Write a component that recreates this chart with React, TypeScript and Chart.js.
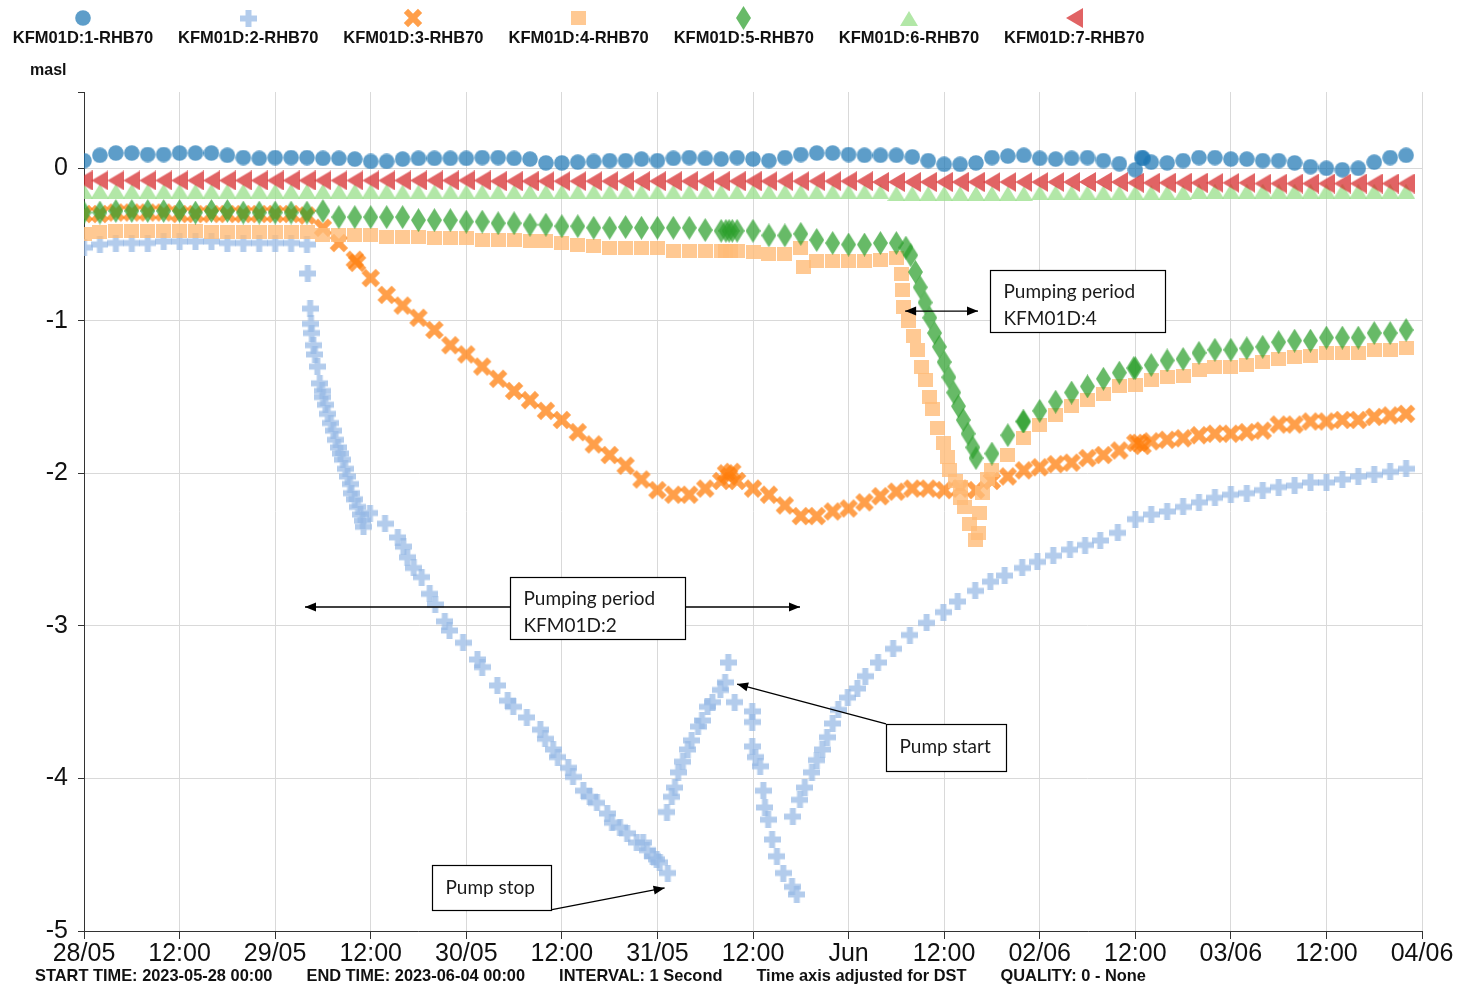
import React, { useEffect, useRef } from 'react';
import { Chart, registerables } from 'chart.js';

Chart.register(...registerables);

// ---------- labels ----------
const SERIES_NAMES = [
  'KFM01D:1-RHB70',
  'KFM01D:2-RHB70',
  'KFM01D:3-RHB70',
  'KFM01D:4-RHB70',
  'KFM01D:5-RHB70',
  'KFM01D:6-RHB70',
  'KFM01D:7-RHB70',
];
const Y_UNIT = 'masl';
const X_TICK_HOURS = [0, 12, 24, 36, 48, 60, 72, 84, 96, 108, 120, 132, 144, 156, 168];
const X_TICK_LABELS = ['28/05', '12:00', '29/05', '12:00', '30/05', '12:00', '31/05', '12:00', 'Jun', '12:00', '02/06', '12:00', '03/06', '12:00', '04/06'];
const Y_TICK_VALUES = [-5, -4, -3, -2, -1, 0];
const Y_MIN = -5;
const Y_MAX = 0.5;
const X_MAX_HOURS = 168;
const FOOTER_ITEMS = [
  'START TIME: 2023-05-28 00:00',
  'END TIME: 2023-06-04 00:00',
  'INTERVAL: 1 Second',
  'Time axis adjusted for DST',
  'QUALITY: 0 - None',
];

// Regular logger samples are every 2 hours from 28/05 00:00
const SAMPLE_STEP_HOURS = 2;

// ---------- KFM01D:1 (2 h samples, 0..166 h) ----------
const s1Values = [
  0.05, 0.085, 0.1, 0.1, 0.09, 0.09, 0.1, 0.1, 0.1, 0.085, 0.07, 0.065, 0.07, 0.07, 0.07, 0.065, 0.065, 0.06, 0.045,
  0.045, 0.06, 0.065, 0.065, 0.065, 0.065, 0.07, 0.07, 0.065, 0.06, 0.035, 0.035, 0.04, 0.045, 0.05, 0.05, 0.06, 0.05,
  0.065, 0.07, 0.065, 0.06, 0.07, 0.06, 0.05, 0.07, 0.09, 0.1, 0.1, 0.09, 0.085, 0.085, 0.085, 0.075, 0.05, 0.026, 0.026, 0.035, 0.07,
  0.08, 0.085, 0.065, 0.06, 0.065, 0.07, 0.05, 0.03, -0.01, 0.04, 0.035, 0.05, 0.07, 0.07, 0.06, 0.06, 0.05, 0.05, 0.035, 0.01, 0.0, -0.01, 0.0, 0.04, 0.07, 0.085,
];
const s1Extra = [[132.8, 0.07], [133.0, 0.065]];

// ---------- KFM01D:2 ----------
const s2Before = [-0.52, -0.5, -0.49, -0.49, -0.49, -0.48, -0.48, -0.48, -0.48, -0.49, -0.49, -0.49, -0.49, -0.49, -0.5];
const s2DropHours = [
  28.1, 28.4, 28.5, 28.6, 28.8, 29.0, 29.3, 29.6, 29.9, 30.0, 30.3, 30.6, 31.0, 31.3, 31.6, 31.9, 32.2, 32.5, 32.8, 33.1,
  33.4, 33.6, 34.0, 34.4, 34.7, 35.0, 35.1, 35.9, 37.8, 39.4, 40.1, 40.6, 41.4, 42.4, 43.4, 44.1, 45.3, 45.9, 47.6, 49.4,
  50.0, 51.9, 53.2, 53.9, 55.6, 57.3, 57.9, 58.9, 59.5, 60.8, 61.4, 62.7, 63.5, 64.4, 65.7, 66.3, 67.3, 68.2, 69.4, 70.2,
  70.7, 71.4, 71.9, 72.3, 73.3,
];
const s2DropValues = [
  -0.69, -0.92, -1.02, -1.08, -1.16, -1.22, -1.3, -1.41, -1.46, -1.5, -1.55, -1.61, -1.67, -1.72, -1.78, -1.83, -1.87, -1.91, -1.97, -2.02,
  -2.07, -2.13, -2.17, -2.22, -2.27, -2.31, -2.35, -2.26, -2.33, -2.42, -2.48, -2.55, -2.62, -2.68, -2.79, -2.86, -2.97, -3.03, -3.11, -3.22,
  -3.27, -3.39, -3.49, -3.53, -3.6, -3.68, -3.74, -3.81, -3.86, -3.93, -3.99, -4.08, -4.12, -4.16, -4.23, -4.29, -4.32, -4.36, -4.42, -4.42,
  -4.47, -4.51, -4.53, -4.55, -4.62,
];
const s2RiseHours = [73.2, 73.8, 74.2, 74.6, 75.2, 75.8, 76.3, 77.1, 77.6, 78.3, 78.9, 79.9, 80.5, 80.9, 81.7];
const s2RiseValues = [-4.22, -4.12, -4.06, -3.96, -3.89, -3.81, -3.75, -3.66, -3.62, -3.53, -3.5, -3.42, -3.37, -3.24, -3.5];
const s2FallHours = [83.9, 83.9, 83.9, 84.3, 84.9, 85.3, 85.5, 85.9, 86.4, 87.0, 87.8, 88.9, 89.5];
const s2FallValues = [-3.56, -3.63, -3.79, -3.86, -3.92, -4.08, -4.19, -4.27, -4.4, -4.51, -4.62, -4.71, -4.76];
const s2RecoveryHours = [
  89.0, 89.9, 90.5, 91.4, 92.0, 92.7, 93.3, 94.0, 94.7, 95.9, 97.1, 98.1, 99.7, 101.6, 103.7, 105.8, 107.9, 109.7,
  111.9, 113.8, 115.6, 117.8, 119.7, 121.7, 123.8, 125.7, 127.6, 129.8,
];
const s2RecoveryValues = [
  -4.25, -4.14, -4.06, -3.96, -3.88, -3.81, -3.73, -3.64, -3.55, -3.47, -3.41, -3.33, -3.24, -3.15, -3.06, -2.98, -2.91, -2.84,
  -2.77, -2.71, -2.67, -2.62, -2.58, -2.54, -2.5, -2.47, -2.44, -2.39,
];
const s2After = [-2.3, -2.27, -2.25, -2.22, -2.19, -2.16, -2.14, -2.13, -2.11, -2.09, -2.08, -2.06, -2.06, -2.04, -2.02, -2.01, -1.99, -1.97];

// ---------- KFM01D:3 (2 h samples, 0..166 h) ----------
const s3Values = [
  -0.3, -0.3, -0.29, -0.29, -0.29, -0.29, -0.3, -0.3, -0.3, -0.3, -0.3, -0.3, -0.3, -0.3, -0.31,
  -0.39, -0.49, -0.6, -0.72, -0.83, -0.9, -0.98, -1.06, -1.16, -1.22, -1.3, -1.38, -1.46, -1.52, -1.59, -1.65, -1.73, -1.81, -1.88, -1.95, -2.04, -2.11,
  -2.14, -2.14, -2.1, -2.05, -2.05, -2.1, -2.14, -2.21, -2.28, -2.28, -2.25, -2.23, -2.19, -2.15, -2.12, -2.1, -2.1, -2.11, -2.1, -2.11, -2.05,
  -2.02, -1.98, -1.96, -1.94, -1.93, -1.9, -1.88, -1.85, -1.8, -1.79, -1.78, -1.77, -1.75, -1.74, -1.74, -1.73, -1.72, -1.68, -1.68, -1.66, -1.66, -1.65, -1.65, -1.63, -1.62, -1.61,
];
const s3Extra = [[34.3, -0.62], [80.6, -2.0], [81.0, -2.02], [81.4, -1.99], [132.5, -1.8], [132.9, -1.82]];

// ---------- KFM01D:4 ----------
const s4Before = [
  -0.43, -0.42, -0.41, -0.41, -0.41, -0.41, -0.41, -0.41, -0.42, -0.42, -0.42, -0.42, -0.42, -0.42, -0.42,
  -0.44, -0.44, -0.44, -0.44, -0.45, -0.45, -0.45, -0.46, -0.46, -0.46, -0.47, -0.47, -0.47, -0.48, -0.48, -0.49, -0.5, -0.51, -0.52, -0.52, -0.52, -0.525,
  -0.54, -0.54, -0.54, -0.54, -0.54, -0.55, -0.56, -0.56, -0.52, -0.61, -0.61, -0.61, -0.61, -0.6, -0.59,
];
const s4Extra = [[90.3, -0.65], [80.6, -0.54], [81.2, -0.54]];
const s4DropHours = [102.7, 102.8, 102.9, 103.5, 104.1, 104.6, 105.2, 105.6, 106.2, 106.6, 107.2, 107.9, 108.4, 108.7, 109.4, 110.0, 110.1, 110.6, 111.2, 111.9, 112.3, 112.5, 112.8, 113.4];
const s4DropValues = [-0.69, -0.8, -0.91, -1.0, -1.1, -1.19, -1.3, -1.39, -1.5, -1.58, -1.7, -1.8, -1.89, -1.98, -2.05, -2.09, -2.16, -2.22, -2.33, -2.44, -2.39, -2.26, -2.13, -2.04];
const s4After = [
  -1.98, -1.88, -1.77, -1.68, -1.62, -1.56, -1.52, -1.48, -1.43, -1.42, -1.39, -1.37, -1.36, -1.32, -1.3, -1.3, -1.29, -1.27, -1.25, -1.24, -1.23, -1.21, -1.21, -1.21, -1.19, -1.19, -1.18,
];

// ---------- KFM01D:5 ----------
const s5Before = [
  -0.29, -0.29, -0.28, -0.28, -0.28, -0.28, -0.28, -0.29, -0.28, -0.28, -0.29, -0.29, -0.29, -0.29, -0.29,
  -0.28, -0.32, -0.32, -0.32, -0.32, -0.32, -0.34, -0.34, -0.34, -0.35, -0.35, -0.36, -0.36, -0.37, -0.37, -0.38, -0.38, -0.39, -0.39, -0.385, -0.39, -0.39,
  -0.39, -0.39, -0.405, -0.41, -0.41, -0.41, -0.44, -0.44, -0.43, -0.47, -0.49, -0.5, -0.5, -0.49, -0.49,
];
const s5Extra = [[80.6, -0.41], [81.0, -0.41], [81.4, -0.41], [117.9, -1.66], [131.8, -1.31]];
const s5DropHours = [103.2, 103.8, 104.4, 105.0, 105.6, 106.2, 106.8, 107.4, 108.0, 108.6, 109.2, 109.8, 110.4, 111.0, 111.6];
const s5DropValues = [-0.52, -0.57, -0.68, -0.78, -0.88, -0.98, -1.08, -1.17, -1.27, -1.37, -1.47, -1.56, -1.65, -1.74, -1.83];
const s5After = [
  -1.9, -1.87, -1.75, -1.66, -1.59, -1.53, -1.47, -1.43, -1.38, -1.34, -1.31, -1.29, -1.26, -1.25, -1.21, -1.19, -1.19, -1.18, -1.17, -1.14, -1.13, -1.13, -1.11, -1.11, -1.11, -1.08, -1.08, -1.06,
];

// ---------- KFM01D:6 (2 h samples, 0..166 h) ----------
const s6Values = [
  -0.15, -0.15, -0.15, -0.15, -0.15, -0.15, -0.15, -0.15, -0.15, -0.15, -0.15, -0.15, -0.15, -0.15, -0.15, -0.15, -0.15, -0.15, -0.15, -0.15,
  -0.155, -0.155, -0.155, -0.155, -0.155, -0.155, -0.155, -0.155, -0.155, -0.155, -0.155, -0.155, -0.155, -0.155, -0.155, -0.155, -0.155, -0.155, -0.155, -0.155,
  -0.155, -0.155, -0.155, -0.155, -0.155, -0.155, -0.155, -0.155, -0.155, -0.155, -0.155,
  -0.165, -0.165, -0.165, -0.165, -0.165, -0.165, -0.165, -0.165, -0.165,
  -0.16, -0.16, -0.16, -0.16, -0.16, -0.16, -0.16, -0.16, -0.16, -0.16, -0.15, -0.15, -0.15, -0.15, -0.15, -0.15, -0.15, -0.15, -0.15, -0.15, -0.15, -0.15, -0.15, -0.15,
];

// ---------- KFM01D:7 (2 h samples, 0..166 h) ----------
const s7Values = [
  -0.08, -0.08, -0.08, -0.08, -0.08, -0.08, -0.08, -0.08, -0.08, -0.08, -0.08, -0.08, -0.08, -0.08, -0.08, -0.08, -0.08, -0.08, -0.08, -0.08,
  -0.08, -0.08, -0.08, -0.08, -0.08, -0.08, -0.085, -0.085, -0.085, -0.085, -0.085, -0.085, -0.085, -0.085, -0.085, -0.085, -0.085, -0.085, -0.085, -0.085,
  -0.085, -0.085, -0.085, -0.085, -0.085, -0.085, -0.085, -0.085, -0.085, -0.085, -0.09, -0.09, -0.09, -0.09, -0.09, -0.09, -0.09, -0.09, -0.09, -0.09,
  -0.09, -0.09, -0.09, -0.09, -0.09, -0.09, -0.095, -0.095, -0.095, -0.095, -0.095, -0.095, -0.095, -0.095, -0.1, -0.1, -0.1, -0.1, -0.1, -0.1, -0.1, -0.1, -0.1, -0.1,
];

// ---------- annotations (data units: hours, masl) ----------
const ANNOTATION_BOXES = [
  { x0: 113.8, x1: 135.7, yTop: -0.667, yBottom: -1.073, lines: ['Pumping period', 'KFM01D:4'] },
  { x0: 53.5, x1: 75.5, yTop: -2.679, yBottom: -3.086, lines: ['Pumping period', 'KFM01D:2'] },
  { x0: 100.7, x1: 115.8, yTop: -3.643, yBottom: -3.951, lines: ['Pump start'] },
  { x0: 43.7, x1: 58.6, yTop: -4.567, yBottom: -4.862, lines: ['Pump stop'] },
];
const ANNOTATION_ARROWS = [
  { from: [103.1, -0.936], to: [112.25, -0.936], both: true },
  { from: [53.5, -2.876], to: [27.75, -2.876], both: false },
  { from: [75.5, -2.876], to: [89.9, -2.876], both: false },
  { from: [100.7, -3.643], to: [82.0, -3.381], both: false },
  { from: [58.6, -4.862], to: [72.9, -4.718], both: false },
];

type Pt = { x: number; y: number };
const onGrid = (values: number[], startHour = 0): Pt[] =>
  values.map((v, i) => ({ x: startHour + i * SAMPLE_STEP_HOURS, y: v }));
const zip = (hours: number[], values: number[]): Pt[] => hours.map((h, i) => ({ x: h, y: values[i] }));
const fromPairs = (list: number[][]): Pt[] => list.map(([x, y]) => ({ x, y }));

const SANS = "'Liberation Sans', Arial, Helvetica, sans-serif";
const NOTE_FONT = "Lato, 'Open Sans', sans-serif";
const GRID_COLOR = '#d9d9d9';
const AXIS_COLOR = '#333333';
const TEXT_COLOR = '#111111';

function markerCanvas(w: number, h: number, draw: (ctx: CanvasRenderingContext2D) => void) {
  const c = document.createElement('canvas');
  c.width = w;
  c.height = h;
  const ctx = c.getContext('2d') as CanvasRenderingContext2D;
  draw(ctx);
  return c;
}

function buildMarkers() {
  const circle = markerCanvas(16, 16, (ctx) => {
    ctx.fillStyle = 'rgba(31,119,180,0.72)';
    ctx.beginPath();
    ctx.arc(8, 8, 7.8, 0, Math.PI * 2);
    ctx.fill();
  });
  const plus = markerCanvas(17, 17, (ctx) => {
    ctx.fillStyle = 'rgba(150,185,228,0.72)';
    ctx.beginPath();
    ctx.rect(0, 5.5, 17, 6);
    ctx.rect(5.5, 0, 6, 17);
    ctx.fill();
  });
  const cross = markerCanvas(20, 20, (ctx) => {
    ctx.fillStyle = 'rgba(255,127,14,0.75)';
    ctx.translate(10, 10);
    ctx.rotate(Math.PI / 4);
    ctx.beginPath();
    ctx.rect(-10, -3, 20, 6);
    ctx.rect(-3, -10, 6, 20);
    ctx.fill();
  });
  const square = markerCanvas(15, 14, (ctx) => {
    ctx.fillStyle = 'rgba(255,187,120,0.8)';
    ctx.fillRect(0, 0, 15, 14);
  });
  const diamond = markerCanvas(15, 24, (ctx) => {
    ctx.fillStyle = 'rgba(44,160,44,0.72)';
    ctx.beginPath();
    ctx.moveTo(7.5, 0);
    ctx.lineTo(15, 12);
    ctx.lineTo(7.5, 24);
    ctx.lineTo(0, 12);
    ctx.closePath();
    ctx.fill();
  });
  const triUp = markerCanvas(18, 15, (ctx) => {
    ctx.fillStyle = 'rgba(152,223,138,0.75)';
    ctx.beginPath();
    ctx.moveTo(9, 0);
    ctx.lineTo(18, 15);
    ctx.lineTo(0, 15);
    ctx.closePath();
    ctx.fill();
  });
  const triLeft = markerCanvas(17, 20, (ctx) => {
    ctx.fillStyle = 'rgba(214,39,40,0.72)';
    ctx.beginPath();
    ctx.moveTo(0, 10);
    ctx.lineTo(17, 0);
    ctx.lineTo(17, 20);
    ctx.closePath();
    ctx.fill();
  });
  return [circle, plus, cross, square, diamond, triUp, triLeft];
}

function drawArrowHead(ctx: CanvasRenderingContext2D, fx: number, fy: number, tx: number, ty: number) {
  const ang = Math.atan2(ty - fy, tx - fx);
  const len = 11;
  const half = 4.5;
  ctx.save();
  ctx.translate(tx, ty);
  ctx.rotate(ang);
  ctx.beginPath();
  ctx.moveTo(0, 0);
  ctx.lineTo(-len, -half);
  ctx.lineTo(-len, half);
  ctx.closePath();
  ctx.fill();
  ctx.restore();
}

export default function App() {
  const canvasRef = useRef<HTMLCanvasElement | null>(null);

  useEffect(() => {
    document.body.style.margin = '0';
    const canvas = canvasRef.current;
    if (!canvas) return;
    const markers = buildMarkers();

    const seriesPoints: Pt[][] = [
      [...onGrid(s1Values), ...fromPairs(s1Extra)],
      [
        ...onGrid(s2Before),
        ...zip(s2DropHours, s2DropValues),
        ...zip(s2RiseHours, s2RiseValues),
        ...zip(s2FallHours, s2FallValues),
        ...zip(s2RecoveryHours, s2RecoveryValues),
        ...onGrid(s2After, 132),
      ],
      [...onGrid(s3Values), ...fromPairs(s3Extra)],
      [...onGrid(s4Before), ...fromPairs(s4Extra), ...zip(s4DropHours, s4DropValues), ...onGrid(s4After, 114)],
      [...onGrid(s5Before), ...fromPairs(s5Extra), ...zip(s5DropHours, s5DropValues), ...onGrid(s5After, 112)],
      onGrid(s6Values),
      onGrid(s7Values),
    ];

    const datasets = SERIES_NAMES.map((name, i) => ({
      label: name,
      data: seriesPoints[i],
      pointStyle: markers[i] as any,
      pointRadius: 8,
      showLine: false,
      order: SERIES_NAMES.length - 1 - i,
    }));

    const overlay = {
      id: 'overlay',
      afterDatasetsDraw(chart: any) {
        const { ctx } = chart;
        const xs = chart.scales.x;
        const ys = chart.scales.y;
        const px = (h: number) => xs.getPixelForValue(h);
        const py = (v: number) => ys.getPixelForValue(v);
        ctx.save();
        // arrows
        ctx.strokeStyle = '#000';
        ctx.fillStyle = '#000';
        ctx.lineWidth = 1.3;
        ANNOTATION_ARROWS.forEach((a) => {
          const fx = px(a.from[0]);
          const fy = py(a.from[1]);
          const tx = px(a.to[0]);
          const ty = py(a.to[1]);
          ctx.beginPath();
          ctx.moveTo(fx, fy);
          ctx.lineTo(tx, ty);
          ctx.stroke();
          drawArrowHead(ctx, fx, fy, tx, ty);
          if (a.both) drawArrowHead(ctx, tx, ty, fx, fy);
        });
        // boxes
        ANNOTATION_BOXES.forEach((b) => {
          const x0 = Math.round(px(b.x0)) + 0.5;
          const x1 = Math.round(px(b.x1)) + 0.5;
          const y0 = Math.round(py(b.yTop)) + 0.5;
          const y1 = Math.round(py(b.yBottom)) + 0.5;
          ctx.fillStyle = '#fff';
          ctx.fillRect(x0, y0, x1 - x0, y1 - y0);
          ctx.strokeStyle = '#000';
          ctx.lineWidth = 1.2;
          ctx.strokeRect(x0, y0, x1 - x0, y1 - y0);
          ctx.fillStyle = '#1a1a1a';
          ctx.font = `19px ${NOTE_FONT}`;
          ctx.textAlign = 'left';
          ctx.textBaseline = 'middle';
          if (b.lines.length === 2) {
            ctx.fillText(b.lines[0], x0 + 13, y0 + 21);
            ctx.fillText(b.lines[1], x0 + 13, y0 + 48);
          } else {
            ctx.fillText(b.lines[0], x0 + 13, y0 + 22);
          }
        });
        ctx.restore();
      },
      afterDraw(chart: any) {
        const { ctx } = chart;
        ctx.save();
        // legend: marker above each name
        const legendStart = 83;
        const legendStep = 165.2;
        ctx.font = `bold 16.5px ${SANS}`;
        ctx.textAlign = 'center';
        ctx.textBaseline = 'middle';
        ctx.fillStyle = TEXT_COLOR;
        SERIES_NAMES.forEach((name, i) => {
          const cx = legendStart + i * legendStep;
          const m = markers[i];
          ctx.drawImage(m, Math.round(cx - m.width / 2), Math.round(18 - m.height / 2));
          ctx.fillText(name, cx, 38);
        });
        // unit label
        ctx.textAlign = 'left';
        ctx.font = `bold 16px ${SANS}`;
        ctx.fillText(Y_UNIT, 30, 71);
        // footer
        ctx.font = `bold 16.4px ${SANS}`;
        let fx = 35;
        FOOTER_ITEMS.forEach((t) => {
          ctx.fillText(t, fx, 976);
          fx += ctx.measureText(t).width + 34;
        });
        ctx.restore();
      },
    };

    const chart = new Chart(canvas, {
      type: 'scatter',
      data: { datasets },
      options: {
        responsive: false,
        animation: false,
        devicePixelRatio: 1,
        events: [],
        layout: { padding: { top: 92, right: 37, left: 0, bottom: 0 } },
        plugins: { legend: { display: false }, tooltip: { enabled: false } },
        scales: {
          x: {
            type: 'linear',
            min: 0,
            max: X_MAX_HOURS,
            afterBuildTicks: (axis: any) => {
              axis.ticks = X_TICK_HOURS.map((v) => ({ value: v }));
            },
            afterFit: (s: any) => {
              s.height = 54;
            },
            ticks: {
              autoSkip: false,
              maxRotation: 0,
              minRotation: 0,
              padding: 3,
              color: TEXT_COLOR,
              font: { family: SANS, size: 25, lineHeight: 1 },
              callback: (value: any) => {
                const idx = X_TICK_HOURS.indexOf(Number(value));
                return idx >= 0 ? X_TICK_LABELS[idx] : '';
              },
            },
            grid: { color: GRID_COLOR, tickColor: AXIS_COLOR, tickLength: 8, lineWidth: 1 },
            border: { color: AXIS_COLOR, width: 1 },
          },
          y: {
            type: 'linear',
            min: Y_MIN,
            max: Y_MAX,
            afterBuildTicks: (axis: any) => {
              axis.ticks = [...Y_TICK_VALUES, Y_MAX].map((v) => ({ value: v }));
            },
            afterFit: (s: any) => {
              s.width = 84;
            },
            ticks: {
              padding: 10,
              color: TEXT_COLOR,
              font: { family: SANS, size: 25, lineHeight: 1 },
              callback: (value: any) => (Y_TICK_VALUES.includes(Number(value)) ? String(value) : ''),
            },
            grid: {
              color: (c: any) => (c.tick && c.tick.value === Y_MAX ? 'rgba(0,0,0,0)' : GRID_COLOR),
              tickColor: AXIS_COLOR,
              tickLength: 6,
              lineWidth: 1,
            },
            border: { color: AXIS_COLOR, width: 1 },
          },
        },
      },
      plugins: [overlay],
    } as any);

    return () => chart.destroy();
  }, []);

  return (
    <div style={{ position: 'relative', width: 1459, height: 985, background: '#fff' }}>
      <canvas ref={canvasRef} width={1459} height={985} style={{ display: 'block' }} />
    </div>
  );
}
